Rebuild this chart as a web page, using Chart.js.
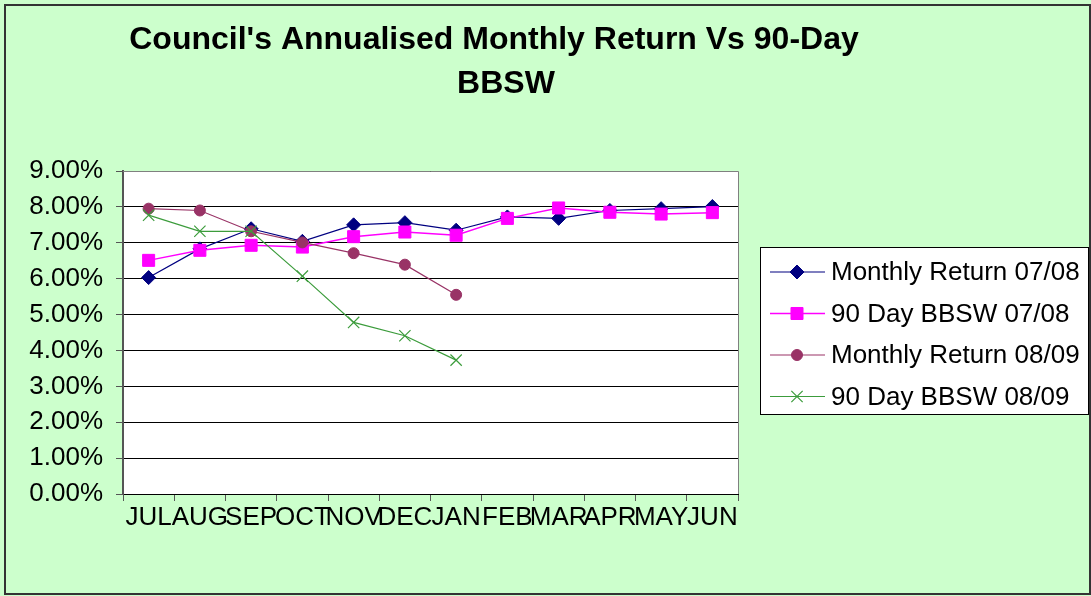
<!DOCTYPE html>
<html>
<head>
<meta charset="utf-8">
<script src="https://cdn.jsdelivr.net/npm/chart.js@4.4.0/dist/chart.umd.min.js"></script>
<style>
    html, body { margin: 0; padding: 0; background: #ccffcc; }
    #wrap { position: relative; width: 1091px; height: 596px; }
</style>
</head>
<body>
<div id="wrap"><canvas id="returnChart" width="1091" height="596"></canvas></div>
<script>
// months on the x axis
const months = ['JUL', 'AUG', 'SEP', 'OCT', 'NOV', 'DEC', 'JAN', 'FEB', 'MAR', 'APR', 'MAY', 'JUN'];

// values in percent
const monthlyReturn0708 = [6.03, 6.83, 7.39, 7.04, 7.50, 7.56, 7.35, 7.72, 7.68, 7.90, 7.95, 8.01];
const bbsw0708 = [6.51, 6.79, 6.93, 6.88, 7.17, 7.30, 7.21, 7.68, 7.97, 7.85, 7.80, 7.84];
const monthlyReturn0809 = [7.95, 7.90, 7.32, 7.01, 6.71, 6.39, 5.55, null, null, null, null, null];
const bbsw0809 = [7.77, 7.32, 7.32, 6.07, 4.78, 4.41, 3.73, null, null, null, null, null];

const yTicks = [0, 1, 2, 3, 4, 5, 6, 7, 8, 9];
const titleLines = ["Council's Annualised Monthly Return Vs 90-Day", 'BBSW'];

const FONT = '"Liberation Sans", Arial, sans-serif';

// green page background with dark frame
const backgroundPlugin = {
    id: 'pageBackground',
    beforeDraw(chart) {
        const ctx = chart.ctx;
        ctx.save();
        ctx.fillStyle = '#ccffcc';
        ctx.fillRect(0, 0, chart.width, chart.height);
        // white plot area
        const a = chart.chartArea;
        ctx.fillStyle = '#ffffff';
        ctx.fillRect(a.left, a.top, a.right - a.left, a.bottom - a.top);
        ctx.restore();
    },
    afterDraw(chart) {
        const ctx = chart.ctx;
        const a = chart.chartArea;
        ctx.save();
        // plot area border (top and right)
        ctx.strokeStyle = '#808080';
        ctx.lineWidth = 1;
        ctx.beginPath();
        ctx.moveTo(a.left, a.top + 0.5);
        ctx.lineTo(a.right + 0.5, a.top + 0.5);
        ctx.lineTo(a.right + 0.5, a.bottom);
        ctx.stroke();
        // outer frame
        ctx.strokeStyle = '#333333';
        ctx.lineWidth = 2;
        ctx.strokeRect(5, 5, chart.width - 6, chart.height - 7);

        // title
        ctx.fillStyle = '#000';
        ctx.font = 'bold 32px ' + FONT;
        ctx.textAlign = 'center';
        ctx.textBaseline = 'alphabetic';
        ctx.fillText(titleLines[0], 494, 49);
        ctx.fillText(titleLines[1], 506, 93);
        ctx.restore();
    }
};

// legend box on the right, line + marker like the original
const legendPlugin = {
    id: 'sideLegend',
    afterDraw(chart) {
        const ctx = chart.ctx;
        const box = { x: 760, y: 247, w: 328, h: 167 };
        ctx.save();
        ctx.fillStyle = '#ffffff';
        ctx.fillRect(box.x, box.y, box.w, box.h);
        ctx.strokeStyle = '#000';
        ctx.lineWidth = 1;
        ctx.strokeRect(box.x + 0.5, box.y + 0.5, box.w, box.h);

        ctx.beginPath();
        ctx.rect(box.x, box.y, box.w, box.h);
        ctx.clip();

        chart.data.datasets.forEach((ds, i) => {
            const y = 272 + i * 41.5;
            ctx.strokeStyle = ds.borderColor;
            ctx.lineWidth = ds.borderWidth;
            ctx.beginPath();
            ctx.moveTo(770, y);
            ctx.lineTo(825, y);
            ctx.stroke();
            ctx.fillStyle = ds.backgroundColor;
            ctx.strokeStyle = ds.borderColor;
            ctx.lineWidth = ds.pointBorderWidth || 1;
            Chart.helpers.drawPoint(ctx, {
                pointStyle: ds.pointStyle,
                radius: ds.pointRadius,
                borderWidth: ds.pointBorderWidth || 1
            }, 797, y);
            ctx.fillStyle = '#000';
            ctx.font = '26px ' + FONT;
            ctx.textAlign = 'left';
            ctx.textBaseline = 'middle';
            ctx.fillText(ds.label, 831, y + 1);
        });
        ctx.restore();
    }
};

const ctx = document.getElementById('returnChart').getContext('2d');
const returnChart = new Chart(ctx, {
    type: 'line',
    data: {
        labels: months,
        datasets: [{
            label: 'Monthly Return 07/08',
            data: monthlyReturn0708,
            borderColor: '#000080',
            backgroundColor: '#000080',
            borderWidth: 1.2,
            pointStyle: 'rectRot',
            pointRadius: 7,
            pointBorderWidth: 1,
            order: 3
        }, {
            label: '90 Day BBSW 07/08',
            data: bbsw0708,
            borderColor: '#ff00ff',
            backgroundColor: '#ff00ff',
            borderWidth: 1.5,
            pointStyle: 'rect',
            pointRadius: 8.5,
            pointBorderWidth: 1,
            order: 2
        }, {
            label: 'Monthly Return 08/09',
            data: monthlyReturn0809,
            borderColor: '#993366',
            backgroundColor: '#993366',
            borderWidth: 1.2,
            pointStyle: 'circle',
            pointRadius: 5.5,
            pointBorderWidth: 1,
            order: 1
        }, {
            label: '90 Day BBSW 08/09',
            data: bbsw0809,
            borderColor: '#3c9c3c',
            backgroundColor: '#3c9c3c',
            borderWidth: 1.2,
            pointStyle: 'crossRot',
            pointRadius: 8,
            pointBorderWidth: 1.2,
            order: 0
        }]
    },
    options: {
        responsive: false,
        animation: false,
        events: [],
        layout: {
            padding: { left: 15, right: 353, top: 171, bottom: 0 }
        },
        scales: {
            x: {
                offset: true,
                afterFit(scale) { scale.height = 102; },
                grid: {
                    offset: true,
                    drawOnChartArea: false,
                    drawTicks: true,
                    tickLength: 7,
                    tickColor: '#555',
                    lineWidth: 1
                },
                border: { display: true, color: '#000', width: 1 },
                ticks: {
                    autoSkip: false,
                    maxRotation: 0,
                    minRotation: 0,
                    padding: 1,
                    color: '#000',
                    font: { family: FONT, size: 26 }
                }
            },
            y: {
                min: 0,
                max: 9,
                afterFit(scale) { scale.width = 108; },
                afterBuildTicks(scale) {
                    scale.ticks = yTicks.map(v => ({ value: v }));
                },
                grid: {
                    color: '#000',
                    lineWidth: 1,
                    drawTicks: true,
                    tickLength: 7,
                    tickColor: '#555'
                },
                border: { display: true, color: '#555', width: 2 },
                ticks: {
                    padding: 13,
                    color: '#000',
                    font: { family: FONT, size: 26 },
                    callback: v => v.toFixed(2) + '%'
                }
            }
        },
        plugins: {
            legend: { display: false },
            title: { display: false },
            tooltip: { enabled: false }
        }
    },
    plugins: [backgroundPlugin, legendPlugin]
});
</script>
</body>
</html>
